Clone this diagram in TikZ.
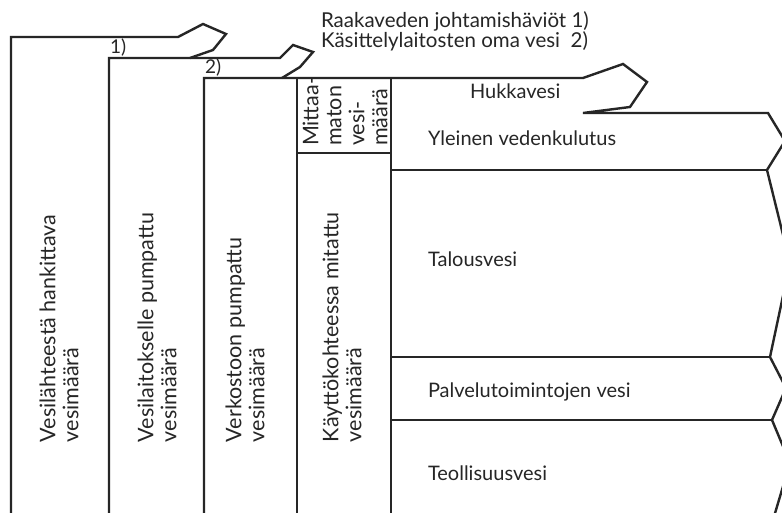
\documentclass[tikz,border=0pt]{standalone}
\usepackage{fontspec}
\setmainfont{Lato}
\begin{document}
\begin{tikzpicture}[x=1pt,y=-1pt,
  ln/.style={line width=2.4pt,draw=black!85,line join=miter},
  lbl/.style={inner sep=0pt,outer sep=0pt,text=black!85,font=\fontsize{20}{23}\selectfont},
  vlbl/.style={lbl,rotate=90,anchor=west,align=left,font=\fontsize{21.5}{23}\selectfont},
  hlbl/.style={lbl,anchor=base west},
  toplbl/.style={hlbl,font=\fontsize{20.5}{18}\selectfont}]
\useasboundingbox (0,0) rectangle (782,513);
\clip (0,0) rectangle (782,513);
\fill[white] (0,0) rectangle (782,513);
% first column with arrow 1)
\draw[ln] (11,520) -- (11,37) -- (178,37) -- (203,24) -- (226,34) -- (213,50) -- (190,58);
% second column with arrow 2)
\draw[ln] (109,520) -- (109,58) -- (280,58) -- (293,45) -- (313,52) -- (300,67) -- (282,78);
% third column and right-hand outline
\draw[ln] (204,520) -- (204,78) -- (583,78) -- (623,64) -- (647,82) -- (630,107) -- (583,113)
  -- (768,113) -- (785,141) -- (767,170) -- (790,263) -- (770,357) -- (786,388)
  -- (772,420) -- (790,463) -- (770,530);
% fourth column and box
\draw[ln] (297,78) -- (297,520);
\draw[ln] (391,78) -- (391,520);
\draw[ln] (297,153) -- (391,153);
% horizontal dividers
\draw[ln] (391,170) -- (767,170);
\draw[ln] (391,357) -- (770,357);
\draw[ln] (391,420) -- (772,420);
% labels
\node[toplbl] (t1) at (321,27.5) {Raakaveden johtamishäviöt 1)};
\node[toplbl] (t2) at (321,47.5) {Käsittelylaitosten oma vesi\ \ 2)};
\node[hlbl,font=\fontsize{19}{20}\selectfont] (n1) at (110,54) {1)};
\node[hlbl,font=\fontsize{19}{20}\selectfont] (n2) at (205,74) {2)};
\node[vlbl] (c1) at (59,442) {Vesilähteestä hankittava\\vesimäärä};
\node[vlbl] (c2) at (157,442) {Vesilaitokselle pumpattu\\vesimäärä};
\node[vlbl] (c3) at (245,442) {Verkostoon pumpattu\\vesimäärä};
\node[vlbl] (c4) at (342,442) {Käyttökohteessa mitattu\\vesimäärä};
\node[vlbl] (c5) at (345,146) {Mittaa-\\maton\\vesi-\\määrä};
\node[hlbl] (h1) at (470,99) {Hukkavesi};
\node[hlbl] (h2) at (428,146) {Yleinen vedenkulutus};
\node[hlbl] (h3) at (428,266) {Talousvesi};
\node[hlbl] (h4) at (428,397) {Palvelutoimintojen vesi};
\node[hlbl] (h5) at (428,480) {Teollisuusvesi};
\end{tikzpicture}
\end{document}
